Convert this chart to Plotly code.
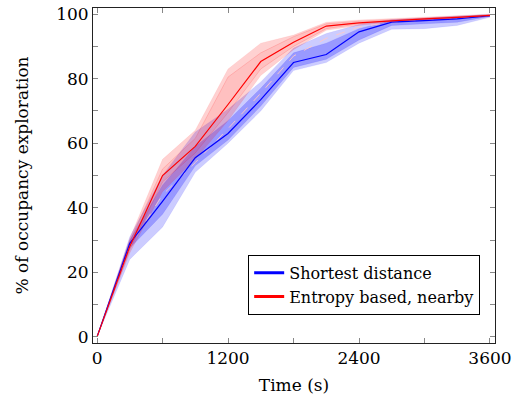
import plotly.graph_objects as go

time_s = [0, 300, 600, 900, 1200, 1500, 1800, 2100, 2400, 2700, 3000, 3300, 3600]

blue_mean = [0, 29, 42, 55.5, 63, 73.5, 85, 87.5, 94.5, 97.5, 98, 98.5, 99.5]
blue_in_lo = [0, 27.5, 38, 53, 61, 71.5, 83.5, 86, 92, 96.5, 97, 97.5, 99.3]
blue_in_hi = [0, 30, 47, 59, 67, 77, 88, 91, 95.5, 98, 98.5, 99, 99.7]
blue_out_lo = [0, 24, 34, 51, 60, 70, 82.5, 85, 91, 95.3, 95.5, 96.5, 99]
blue_out_hi = [0, 31, 50, 63.5, 70.5, 79, 89.5, 94, 96.8, 98.3, 98.8, 99.3, 100]

red_mean = [0, 28, 50, 59, 72, 85.3, 91.3, 96.3, 97.3, 98, 98.5, 99, 99.6]
red_in_lo = [0, 27, 48, 57, 69.5, 83, 90, 95.5, 97, 97.8, 98.3, 98.8, 99.4]
red_in_hi = [0, 29.5, 52, 61.5, 80.5, 88, 93, 97, 97.8, 98.3, 98.8, 99.2, 99.8]
red_out_lo = [0, 26, 45, 55, 67, 81, 89, 95, 96.5, 97.5, 98, 98.5, 99.2]
red_out_hi = [0, 30.5, 55, 64, 83, 91, 93.5, 97.5, 98.2, 98.6, 99, 99.4, 100]

median_vals = [0, 28, 44, 54, 64.5, 75.5, 87, 92.5, 96, 97.5, 98, 98.6, 99.5]

x_ticks = [0, 600, 1200, 1800, 2400, 3000, 3600]
x_labels = ["0", "", "1200", "", "2400", "", "3600"]
y_ticks = list(range(0, 101, 10))
y_labels = [str(v) if v % 20 == 0 else "" for v in y_ticks]

FONT = "DejaVu Serif"


def band(lo, hi, fill, edge):
    return [
        go.Scatter(x=time_s, y=lo, mode="lines", line=dict(width=0.6, color=edge),
                   showlegend=False, hoverinfo="skip"),
        go.Scatter(x=time_s, y=hi, mode="lines", line=dict(width=0.6, color=edge),
                   fill="tonexty", fillcolor=fill, showlegend=False, hoverinfo="skip"),
    ]


fig = go.Figure()

for tr in band(blue_out_lo, blue_out_hi, "rgba(0,0,255,0.2)", "rgba(0,0,255,0.1)"):
    fig.add_trace(tr)
for tr in band(blue_in_lo, blue_in_hi, "rgba(0,0,255,0.25)", "rgba(0,0,255,0.15)"):
    fig.add_trace(tr)
for tr in band(red_out_lo, red_out_hi, "rgba(255,0,0,0.18)", "rgba(255,0,0,0.1)"):
    fig.add_trace(tr)
for tr in band(red_in_lo, red_in_hi, "rgba(255,0,0,0.08)", "rgba(255,0,0,0.25)"):
    fig.add_trace(tr)

fig.add_trace(go.Scatter(x=time_s, y=median_vals, mode="lines",
                         line=dict(color="rgba(255,200,200,0.9)", width=1, dash="dash"),
                         showlegend=False))
fig.add_trace(go.Scatter(x=time_s, y=blue_mean, mode="lines",
                         line=dict(color="#0000ff", width=1.2), showlegend=False))
fig.add_trace(go.Scatter(x=time_s, y=red_mean, mode="lines",
                         line=dict(color="#ff0000", width=1.2), showlegend=False))

# legend entries with thicker lines
fig.add_trace(go.Scatter(x=[None], y=[None], mode="lines", name="Shortest distance",
                         line=dict(color="#0000ff", width=3)))
fig.add_trace(go.Scatter(x=[None], y=[None], mode="lines", name="Entropy based, nearby",
                         line=dict(color="#ff0000", width=3)))

axis_style = dict(
    showline=True, linecolor="#222", linewidth=1, mirror="ticks",
    ticks="inside", ticklen=5, tickcolor="#888", tickwidth=1,
    showgrid=False, zeroline=False, tickmode="array", automargin=False,
    ticklabeloverflow="allow",
    tickfont=dict(family=FONT, size=17, color="black"),
)

fig.update_xaxes(axis_style, range=[-37, 3646], tickvals=x_ticks, ticktext=x_labels,
                 title=dict(text="Time (s)", font=dict(family=FONT, size=17, color="black"),
                            standoff=11))
fig.update_yaxes(axis_style, range=[-1.9, 101.9], tickvals=y_ticks, ticktext=y_labels,
                 title=dict(text="% of occupancy exploration",
                            font=dict(family=FONT, size=17, color="black"), standoff=23))

fig.update_layout(
    width=512, height=408,
    margin=dict(l=93, r=17, t=8, b=65),
    plot_bgcolor="white", paper_bgcolor="white",
    legend=dict(x=0.386, y=0.263, xanchor="left", yanchor="top",
                bgcolor="white", bordercolor="black", borderwidth=1,
                font=dict(family=FONT, size=16, color="black"),
                traceorder="normal", tracegroupgap=0, itemwidth=30),
)

# drop the default 8px body margin so the figure fills the window exactly
fig.write_html("out.html", config={"displayModeBar": False},
               post_script="document.body.style.margin='0';")
